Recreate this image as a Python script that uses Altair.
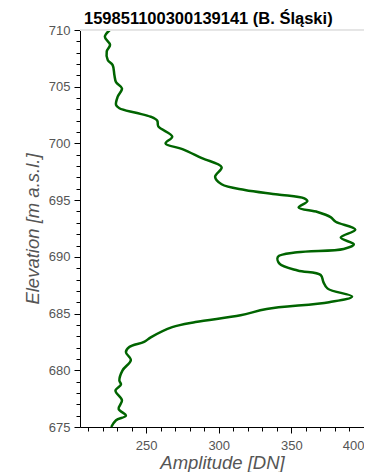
import altair as alt
import pandas as pd

elevation = [710.0, 709.4, 708.7, 708.1, 707.35, 706.9, 706.0, 705.4, 704.85, 704.1,
             703.4, 703.1, 702.7, 702.35, 702.0, 701.5, 700.6, 700.0, 699.5, 698.7,
             697.9, 697.05, 696.4, 695.9, 695.5, 695.15, 694.9, 694.35, 693.95, 693.5,
             693.1, 692.4, 691.7, 691.1, 690.7, 690.4, 690.0, 689.4, 688.8, 688.4,
             687.8, 687.2, 686.5, 686.0, 685.4, 684.85, 684.25, 683.8, 682.9, 682.5,
             682.05, 681.6, 680.9, 680.0, 679.1, 678.75, 678.2, 677.35, 676.6, 676.0,
             675.6, 675.0]
amplitude = [225.0, 221.6, 225.2, 222.9, 223.6, 227.0, 228.2, 229.3, 233.4, 230.4,
             229.3, 231.6, 243.0, 253.2, 257.7, 258.4, 268.0, 263.4, 275.0, 288.4,
             302.0, 297.5, 302.0, 318.0, 340.7, 358.9, 361.0, 355.0, 368.0, 377.0,
             380.5, 394.0, 384.0, 393.0, 386.0, 354.0, 340.7, 341.8, 354.3, 370.2,
             372.0, 375.0, 391.8, 376.0, 333.0, 315.0, 284.0, 268.0, 253.2, 248.6,
             238.4, 236.1, 239.5, 233.8, 231.6, 232.7, 228.9, 233.4, 231.1, 236.1,
             229.3, 226.0]
y_ticks = list(range(675, 711))
x_ticks = list(range(210, 401, 10))

df = pd.DataFrame({"elevation": elevation, "amplitude": amplitude,
                   "idx": list(range(len(elevation)))})

FONT = "Liberation Sans"
label_color = "#555555"
W, H = 284, 397

x_axis = alt.Axis(
    values=x_ticks,
    labelExpr="datum.value % 50 === 0 ? datum.label : ''",
    tickSize={"condition": {"test": "datum.value % 50 === 0", "value": 6}, "value": 4},
    grid=False, domainColor="black", tickColor="black",
    labelFont=FONT, labelFontSize=13, labelColor=label_color,
    labelPadding=6, labelFlush=True, labelOverlap=False,
    title="Amplitude [DN]", titleFont=FONT, titleFontSize=18.5,
    titleFontStyle="italic", titleFontWeight="normal", titleColor=label_color,
    titlePadding=1,
)
y_axis = alt.Axis(
    values=y_ticks,
    labelExpr="datum.value % 5 === 0 ? datum.label : ''",
    tickSize={"condition": {"test": "datum.value % 5 === 0", "value": 6}, "value": 4},
    grid=False, domainColor="black", tickColor="black",
    labelFont=FONT, labelFontSize=13, labelColor=label_color,
    labelPadding=4, labelFlush=False, labelOverlap=False,
    title="Elevation [m a.s.l.]", titleFont=FONT, titleFontSize=18.5,
    titleFontStyle="italic", titleFontWeight="normal", titleColor=label_color,
    titlePadding=6,
)

line = alt.Chart(df).mark_line(
    color="#006400", strokeWidth=2.5, interpolate="catmull-rom"
).encode(
    x=alt.X("amplitude:Q", scale=alt.Scale(domain=[204.5, 400], nice=False, zero=False), axis=x_axis),
    y=alt.Y("elevation:Q", scale=alt.Scale(domain=[675, 710], nice=False, zero=False), axis=y_axis),
    order="idx:Q",
)

top_border = alt.Chart(df).mark_rule(color="#e5e5e5", strokeWidth=1).encode(
    x=alt.value(0), x2=alt.value(W), y=alt.value(0)
)

chart = alt.layer(line, top_border).properties(
    width=W,
    height=H,
    title=alt.Title(
        "159851100300139141 (B. Śląski)",
        font=FONT, fontSize=16.5, fontWeight="bold", color="black",
        anchor="start", frame="group", dx=4, offset=-3,
    ),
    autosize=alt.AutoSizeParams(type="none"),
    padding={"left": 72, "top": 22, "right": 0, "bottom": 45},
).configure_view(stroke=None)

chart.save("out.html", embed_options={"renderer": "svg", "actions": False})
